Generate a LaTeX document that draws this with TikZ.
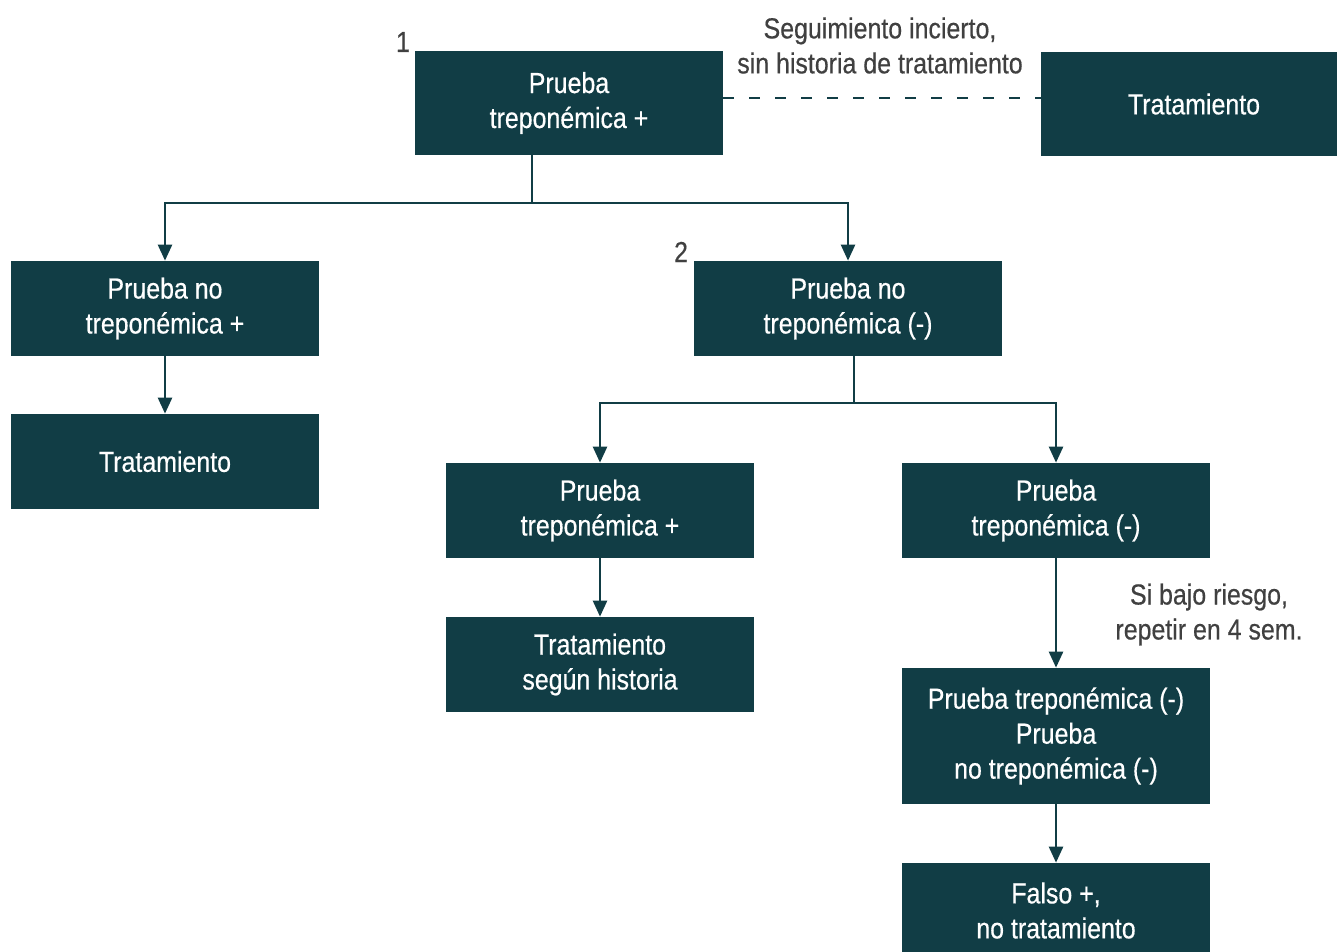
\documentclass[tikz,border=0pt]{standalone}
\usepackage{fontspec}
\setmainfont{Liberation Sans}[FakeStretch=0.86,FakeBold=0.5]
\usepackage{xcolor}
\definecolor{Col1}{RGB}{17,61,69}
\definecolor{Col2}{RGB}{64,64,64}
\usetikzlibrary{arrows.meta}
\tikzstyle{Box}=[rectangle,fill=Col1,text=white,minimum width=6.16cm,
minimum height=1.9cm,inner sep=2pt,align=center,
font=\fontsize{16.5}{19.9}\selectfont]
\tikzstyle{Edge}=[draw=Col1,line width=1.4pt]
\tikzstyle{Arrow}=[Edge,-{Triangle[length=.32cm,width=.28cm]}]
\tikzstyle{NodeST}=[text=Col2,align=center,
font=\fontsize{16.5}{19.9}\selectfont]
\begin{document}
\begin{tikzpicture}[x=0.02cm,y=-0.02cm]
            \clip(0,0)rectangle(1337,952);
            \node[Box,minimum height=2.08cm,text depth=.12cm](1)at(569,103)
                {Prueba\\treponémica +};
            \node[Box,minimum height=2.08cm,minimum width=5.92cm](10)at(1189,104)
                {\hspace*{.2cm}Tratamiento};
            \node[Box](2)at(165,308.5){Prueba no\\treponémica +};
            \node[Box](3)at(848,308.5){Prueba no\\treponémica (-)};
            \node[Box](4)at(165,461.5){Tratamiento};
            \node[Box](5)at(600,510.5){Prueba\\treponémica +};
            \node[Box](6)at(1056,510.5){Prueba\\treponémica (-)};
            \node[Box](7)at(600,664.5){Tratamiento\\según historia};
            \node[Box,minimum height=2.72cm](8)at(1056,736)
                {Prueba treponémica (-)\\Prueba\\no treponémica (-)};
            \node[Box](9)at(1056,910.5){Falso +,\\no tratamiento};
            \node[NodeST](n1)at(403,42){1};
            \node[NodeST](n2)at(681,252){2};
            \node[NodeST](s1)at(880,45.5)
                {Seguimiento incierto,\\sin historia de tratamiento};
            \node[NodeST](s2)at(1209,614.5)
                {Si bajo riesgo,\\repetir en 4 sem.};
            \coordinate(j1)at(532,203);
            \coordinate(j2)at(854,403);
            \coordinate(d)at(0,98);
            \draw[Edge,dash pattern=on .22cm off .3cm](1.east|-d)--(10.west|-d);
            \draw[Edge](1.south-|j1)--(j1);
            \draw[Arrow](j1)-|(2);
            \draw[Arrow](j1)-|(3);
            \draw[Arrow](2)--(4);
            \draw[Edge](3.south-|j2)--(j2);
            \draw[Arrow](j2)-|(5);
            \draw[Arrow](j2)-|(6);
            \draw[Arrow](5)--(7);
            \draw[Arrow](6)--(8);
            \draw[Arrow](8)--(9);
        \end{tikzpicture}
\end{document}
